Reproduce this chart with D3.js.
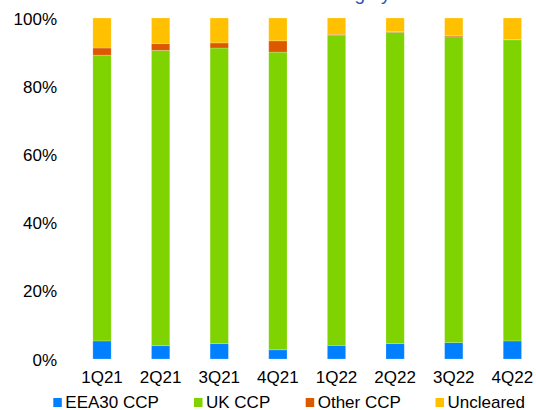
<!DOCTYPE html>
<html>
<head>
<meta charset="utf-8">
<script src="https://cdn.jsdelivr.net/npm/d3@7"></script>
<style>
  html, body { margin: 0; padding: 0; background: #fff; }
  svg { display: block; font-family: Arial, "Liberation Sans", sans-serif; }
</style>
</head>
<body>
<svg id="chart" width="536" height="410"></svg>
<script>
const categories = ["1Q21", "2Q21", "3Q21", "4Q21", "1Q22", "2Q22", "3Q22", "4Q22"];
const seriesNames = ["EEA30 CCP", "UK CCP", "Other CCP", "Uncleared"];
const eea30 = [5.3, 3.9, 4.5, 2.7, 4.0, 4.5, 4.8, 5.3];
const ukCcp = [83.8, 86.6, 86.7, 87.3, 91.0, 91.3, 89.7, 88.3];
const otherCcp = [2.1, 2.0, 1.5, 3.3, 0.2, 0.2, 0.3, 0.1];
const uncleared = [8.8, 7.5, 7.3, 6.7, 4.8, 4.0, 5.2, 6.3];
const yTicks = [0, 20, 40, 60, 80, 100];
const titleText = "Share of EUR OTC interest rate derivatives clearing by CCP location";

const colors = ["#0080FF", "#7ED300", "#DD5900", "#FFC000"];
const seriesValues = [eea30, ukCcp, otherCcp, uncleared];

const rows = categories.map((c, i) => {
  const r = { cat: c };
  seriesNames.forEach((s, k) => r[s] = seriesValues[k][i]);
  return r;
});

const svg = d3.select("#chart");

const x = d3.scaleBand().domain(categories).range([72.7, 541.7])
  .paddingInner(0.688).paddingOuter(0.344);
const y = d3.scaleLinear().domain([0, 100]).range([359, 18]);

// Title (mostly cut off at top, as in the reference)
const title = svg.append("text")
  .attr("x", 0).attr("y", -0.3)
  .attr("fill", "#2154B8")
  .attr("font-size", 19)
  .text(titleText);
const idx = titleText.indexOf("by ") + 1;
const pos = title.node().getStartPositionOfChar(idx).x;
title.attr("x", 381 - pos);

const stack = d3.stack().keys(seriesNames)(rows);

svg.append("g").selectAll("g")
  .data(stack)
  .join("g")
  .attr("fill", (d, i) => colors[i])
  .selectAll("rect")
  .data(d => d)
  .join("rect")
  .attr("x", d => x(d.data.cat))
  .attr("width", x.bandwidth())
  .attr("y", d => y(d[1]))
  .attr("height", d => y(d[0]) - y(d[1]))
  .attr("stroke", "#ffffff")
  .attr("stroke-opacity", 0.25)
  .attr("stroke-width", 0.8);

// Y axis
const yAxis = d3.axisLeft(y).tickValues(yTicks).tickFormat(d => d + "%").tickSize(0).tickPadding(0);
const yg = svg.append("g").attr("transform", "translate(57,0)").call(yAxis);
yg.select(".domain").remove();
yg.selectAll("text").attr("font-size", 17).attr("fill", "#000")
  .attr("font-family", "Arial, 'Liberation Sans', sans-serif").attr("dy", "0.36em");

// X axis
const xAxis = d3.axisBottom(x).tickSize(0).tickPadding(0);
const xg = svg.append("g").attr("transform", "translate(0,370)").call(xAxis);
xg.select(".domain").remove();
xg.selectAll("text").attr("font-size", 17).attr("fill", "#000")
  .attr("font-family", "Arial, 'Liberation Sans', sans-serif").attr("dy", "0.74em");

// Legend
const legendX = [53.3, 194, 305.7, 435.5];
const lg = svg.append("g");
seriesNames.forEach((s, i) => {
  lg.append("rect").attr("x", legendX[i]).attr("y", 398).attr("width", 8.5).attr("height", 9)
    .attr("fill", colors[i]);
  lg.append("text").attr("x", legendX[i] + 12).attr("y", 407.5)
    .attr("font-size", 17).attr("fill", "#000").text(s);
});
</script>
</body>
</html>
